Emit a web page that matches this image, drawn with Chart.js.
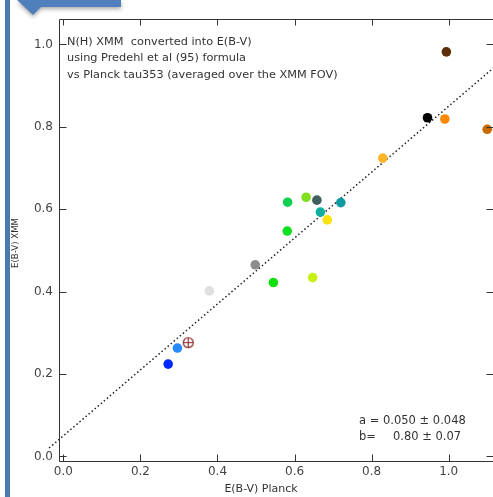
<!DOCTYPE html>
<html><head><meta charset="utf-8">
<script src="https://cdn.jsdelivr.net/npm/chart.js@4.4.0/dist/chart.umd.min.js"></script>
<style>html,body{margin:0;padding:0;overflow:hidden;background:#fff;width:493px;height:497px}canvas{display:block}</style>
</head><body><canvas id="c" width="500" height="497"></canvas>
<script>
// ---- data ----
const xPlanck = [0.994, 0.945, 0.990, 1.100, 0.829, 0.720, 0.658, 0.630, 0.582, 0.667, 0.685, 0.581, 0.498, 0.545, 0.647, 0.379, 0.296, 0.272];
const yXMM    = [0.982, 0.822, 0.819, 0.794, 0.724, 0.616, 0.622, 0.629, 0.617, 0.593, 0.574, 0.547, 0.465, 0.422, 0.434, 0.402, 0.263, 0.224];
const pointColors = ['#5c2e08','#000000','#ff8800','#c86a00','#ffb428','#109aa0','#3f5f5f','#80e020','#10d050','#10b0a0','#ffe010','#10e020','#8c8c8c','#10e010','#c8f010','#e0e0e0','#2888ff','#0028ff'];
const specialX = [0.324];
const specialY = [0.276];
const fitA = 0.050, fitB = 0.80;
const fitRange = [-0.037, 1.12];
const xTicks = [0, 0.2, 0.4, 0.6, 0.8, 1.0];
const yTicks = [0, 0.2, 0.4, 0.6, 0.8, 1.0];
const xTitle = 'E(B-V) Planck';
const yTitle = 'E(B-V) XMM';
const noteLines = ['N(H) XMM  converted into E(B-V)', 'using Predehl et al (95) formula', 'vs Planck tau353 (averaged over the XMM FOV)'];
const fitLine1 = 'a = 0.050 \u00b1 0.048';
const fitLine2a = 'b=';
const fitLine2b = '0.80 \u00b1 0.07';

Chart.defaults.font.family = "'DejaVu Sans', sans-serif";

// crosshair circle marker
const cross = document.createElement('canvas');
cross.width = 13; cross.height = 13;
(function(){
  const g = cross.getContext('2d');
  g.strokeStyle = '#8b2a2a'; g.lineWidth = 1.2;
  g.beginPath(); g.arc(6.5, 6.5, 5, 0, Math.PI*2); g.stroke();
  g.beginPath(); g.moveTo(6.5, 1.5); g.lineTo(6.5, 11.5); g.moveTo(1.5, 6.5); g.lineTo(11.5, 6.5); g.stroke();
})();

const framePlugin = {
  id: 'frame',
  beforeDraw(chart) {
    const ctx = chart.ctx;
    ctx.save();
    // slide decoration
    ctx.fillStyle = '#4a7ab4';
    ctx.fillRect(5, 0, 5, 497);
    ctx.shadowColor = 'rgba(0,0,0,0.35)'; ctx.shadowBlur = 4; ctx.shadowOffsetY = 2;
    ctx.beginPath();
    ctx.moveTo(17, 0); ctx.lineTo(121, 0); ctx.lineTo(121, 7); ctx.lineTo(41, 7); ctx.lineTo(33, 15); ctx.closePath();
    ctx.fillStyle = '#4f80bc';
    ctx.fill();
    ctx.restore();
  },
  afterDraw(chart) {
    const ctx = chart.ctx, a = chart.chartArea;
    const xs = chart.scales.x, ys = chart.scales.y;
    ctx.save();
    ctx.strokeStyle = '#333'; ctx.lineWidth = 1;
    const L = Math.round(a.left) + 0.5, R = Math.round(a.right) + 0.5, T = Math.round(a.top) + 0.5, B = Math.round(a.bottom) + 0.5;
    ctx.beginPath();
    ctx.moveTo(L, T); ctx.lineTo(R, T); ctx.lineTo(R, B); ctx.lineTo(L, B); ctx.closePath();
    xTicks.forEach(v => {
      const px = Math.round(xs.getPixelForValue(v)) + 0.5;
      ctx.moveTo(px, B); ctx.lineTo(px, B - 7);
      ctx.moveTo(px, T); ctx.lineTo(px, T + 6);
    });
    yTicks.forEach(v => {
      const py = Math.round(ys.getPixelForValue(v)) + 0.5;
      ctx.moveTo(L, py); ctx.lineTo(L + 7, py);
      ctx.moveTo(R, py); ctx.lineTo(R - 7, py);
    });
    ctx.stroke();
    // texts
    ctx.fillStyle = '#333';
    ctx.textBaseline = 'middle';
    ctx.textAlign = 'left';
    ctx.font = "11.3px 'DejaVu Sans'";
    noteLines.forEach((t, i) => ctx.fillText(t, 67, 42 + i * 16.3));
    ctx.font = "11.5px 'DejaVu Sans'";
    ctx.fillText(fitLine1, 359, 421.5);
    ctx.fillText(fitLine2a, 359, 437.5);
    ctx.fillText(fitLine2b, 393, 437.5);
    ctx.font = "11px 'DejaVu Sans'";
    ctx.textAlign = 'center';
    ctx.fillText(xTitle, 261, 489);
    ctx.translate(16, 243);
    ctx.rotate(-Math.PI / 2);
    ctx.font = "8.6px 'DejaVu Sans'";
    ctx.fillText(yTitle, 0, 0);
    ctx.restore();
  }
};

new Chart(document.getElementById('c'), {
  type: 'scatter',
  data: {
    datasets: [
      {
        type: 'line',
        data: fitRange.map(x => ({x: x, y: fitA + fitB * x})),
        borderColor: '#222', borderWidth: 1.5, borderDash: [1.5, 2.5],
        pointRadius: 0, fill: false, clip: false, order: 3
      },
      {
        data: xPlanck.map((x, i) => ({x: x, y: yXMM[i]})),
        pointBackgroundColor: pointColors, pointBorderWidth: 0, pointBorderColor: 'rgba(0,0,0,0)',
        pointRadius: 4.8, order: 1
      },
      {
        data: specialX.map((x, i) => ({x: x, y: specialY[i]})),
        pointStyle: cross, pointRadius: 6, order: 0
      }
    ]
  },
  options: {
    responsive: false, animation: false,
    layout: {padding: {left: 0, top: 19, right: 4, bottom: 0}},
    plugins: {legend: {display: false}, tooltip: {enabled: false}},
    scales: {
      x: {
        type: 'linear', min: -0.0113, max: 1.115,
        grid: {display: false, drawTicks: false}, border: {display: false},
        afterBuildTicks: s => { s.ticks = xTicks.map(v => ({value: v})); },
        afterFit: s => { s.height = 36; },
        ticks: {padding: 4, color: '#444', font: {size: 12}, callback: v => v.toFixed(1)}
      },
      y: {
        type: 'linear', min: -0.0112, max: 1.0617,
        grid: {display: false, drawTicks: false}, border: {display: false},
        afterBuildTicks: s => { s.ticks = yTicks.map(v => ({value: v})); },
        afterFit: s => { s.width = 59; },
        ticks: {padding: 6, color: '#444', font: {size: 12}, callback: v => v.toFixed(1)}
      }
    }
  },
  plugins: [framePlugin]
});
</script>
</body></html>
